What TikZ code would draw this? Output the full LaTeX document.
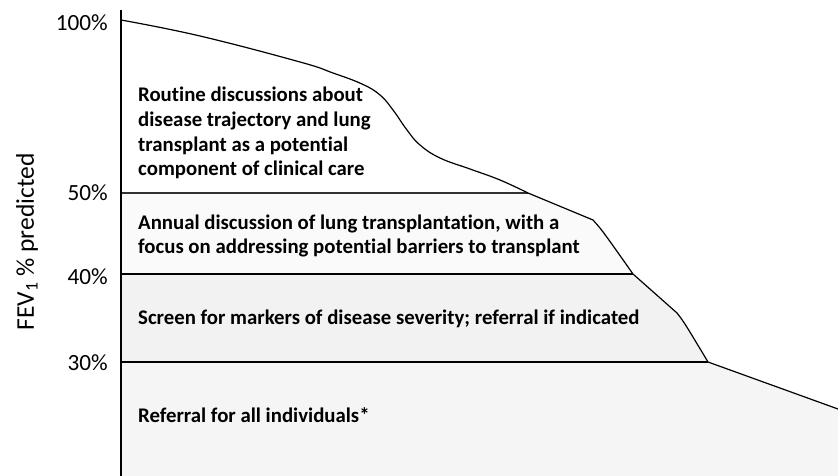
\documentclass[tikz,border=0pt]{standalone}
\usepackage{fontspec}
\setmainfont{Carlito}[Ligatures=NoCommon]
\usetikzlibrary{calc}

\tikzset{
  bandtext/.style={anchor=west, align=left, font=\fontsize{20.8}{24.7}\selectfont\bfseries, inner sep=0pt},
  ticklabel/.style={anchor=east, font=\fontsize{23.2}{26}\selectfont, inner sep=0pt},
  bandline/.style={line width=1.1pt},
}

\begin{document}
\begin{tikzpicture}[x=1pt, y=-1pt]
			%%%%% START %%%%%
			\useasboundingbox (0, 0) rectangle (838, 476);
			
			% shaded bands
			\fill[black!2] (121, 193) -- (528, 193) -- (593, 220) .. controls (602, 230) .. (633, 274) -- (121, 274) -- cycle;
			\fill[black!5] (121, 274) -- (633, 274) -- (677, 313) .. controls (684, 322) .. (708, 362) -- (121, 362) -- cycle;
			\fill[black!4] (121, 362) -- (708, 362) -- (838, 409) -- (838, 476) -- (121, 476) -- cycle;
			
			% band borders
			\draw[bandline, black!80] (121, 193) -- (528, 193);
			\draw[bandline, line width=1.4pt] (121, 274) -- (633, 274);
			\draw[bandline] (121, 362) -- (708, 362);
			
			% decline curve
			\draw[line width=1.2pt] plot[smooth, tension=0.7] coordinates {(121, 20) (200, 36) (300, 62) (333, 73) (362, 84) (380, 95) (393, 110) (407, 130) (420, 145) (440, 158) (470, 169) (500, 180) (528, 193)}
			  -- (593, 220) .. controls (602, 230) .. (633, 274)
			  -- (677, 313) .. controls (684, 322) .. (708, 362)
			  -- (838, 409);
			
			% axis
			\draw[line width=1.4pt] (121, 10) -- (121, 476);
			
			\node[ticklabel] (t100) at (108, 23) {100\%};
			\node[ticklabel] (t50) at (108, 193) {50\%};
			\node[ticklabel] (t40) at (108, 277) {40\%};
			\node[ticklabel] (t30) at (108, 363) {30\%};
			
			\node[rotate=90, font=\fontsize{25.5}{28}\selectfont, inner sep=0pt] (ylab) at (27, 242) {FEV\textsubscript{1} \% predicted};
			
			\node[bandtext] (routine) at (138, 133) {Routine discussions about\\disease trajectory and lung\\transplant as a potential\\component of clinical care};
			\node[bandtext] (annual) at (138, 236) {Annual discussion of lung transplantation, with a\\focus on addressing potential barriers to transplant};
			\node[bandtext] (screen) at (138, 319) {Screen for markers of disease severity; referral if indicated};
			\node[bandtext] (referral) at (138, 415) {Referral for all individuals*};
			
			%%%%% END %%%%%
		\end{tikzpicture}
\end{document}
